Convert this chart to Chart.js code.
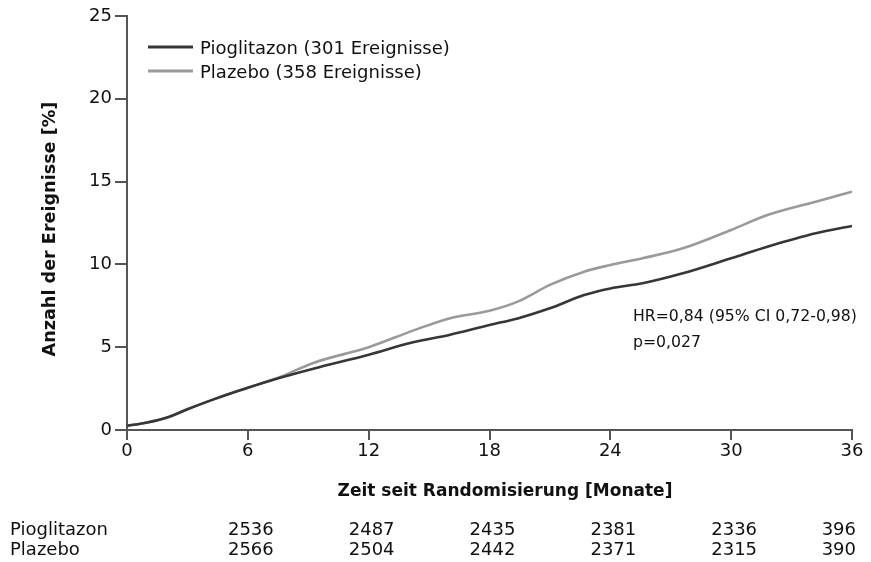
<!DOCTYPE html>
<html>
<head>
<meta charset="utf-8">
<script src="https://cdn.jsdelivr.net/npm/chart.js@4/dist/chart.umd.min.js"></script>
<style>
  html, body { margin: 0; padding: 0; background: #ffffff; }
  #c { display: block; }
</style>
</head>
<body>
<canvas id="c" width="871" height="562"></canvas>
<script>
// ---- data ----
const months = [0, 1, 2.1, 3, 4.3, 6, 7.6, 9.25, 12, 14.2, 16, 18, 19.4, 21, 22.7, 24, 25.6, 27.6, 30, 31.8, 34.2, 36];
const pioglitazon = [0.25, 0.45, 0.8, 1.25, 1.85, 2.55, 3.15, 3.7, 4.55, 5.3, 5.74, 6.34, 6.74, 7.35, 8.15, 8.55, 8.86, 9.46, 10.37, 11.07, 11.88, 12.32];
const plazebo     = [0.25, 0.45, 0.8, 1.25, 1.85, 2.55, 3.2, 4.05, 5.0, 6.0, 6.74, 7.2, 7.75, 8.76, 9.56, 9.96, 10.37, 10.97, 12.08, 12.98, 13.79, 14.39];
const seriesLabels = ['Pioglitazon (301 Ereignisse)', 'Plazebo (358 Ereignisse)'];
const xTicks = [0, 6, 12, 18, 24, 30, 36];
const yTicks = [0, 5, 10, 15, 20, 25];
const riskTimes = [6, 12, 18, 24, 30, 36];
const riskGroups = ['Pioglitazon', 'Plazebo'];
const riskPio = [2536, 2487, 2435, 2381, 2336, 396];
const riskPla = [2566, 2504, 2442, 2371, 2315, 390];
const annotationLines = ['HR=0,84 (95% CI 0,72-0,98)', 'p=0,027'];
const xTitle = 'Zeit seit Randomisierung [Monate]';
const yTitle = 'Anzahl der Ereignisse [%]';

const FONT = '"DejaVu Sans", "Liberation Sans", Arial, sans-serif';
const TEXT = '#111111';
const AXIS = '#555555';
const COLORS = ['#363636', '#9a9a9a'];

const toPts = (vals) => months.map((m, i) => ({ x: m, y: vals[i] }));

const overlay = {
  id: 'overlay',
  afterDraw(chart) {
    const ctx = chart.ctx;
    const xs = chart.scales.x;
    ctx.save();
    ctx.fillStyle = TEXT;

    // legend inside plot
    const legY = [47, 71];
    chart.data.datasets.forEach((ds, i) => {
      ctx.strokeStyle = ds.borderColor;
      ctx.lineWidth = 3;
      ctx.beginPath();
      ctx.moveTo(148, legY[i]);
      ctx.lineTo(193, legY[i]);
      ctx.stroke();
      ctx.font = '18px ' + FONT;
      ctx.textAlign = 'left';
      ctx.textBaseline = 'middle';
      ctx.fillText(ds.label, 200, legY[i] + 2);
    });

    // annotation
    ctx.font = '15.7px ' + FONT;
    ctx.textAlign = 'left';
    ctx.textBaseline = 'alphabetic';
    annotationLines.forEach((t, i) => ctx.fillText(t, 633, 321 + i * 26));

    // x title
    ctx.font = 'bold 17px ' + FONT;
    ctx.textAlign = 'center';
    ctx.fillText(xTitle, 505, 496);

    // y title
    ctx.save();
    ctx.translate(55, 229);
    ctx.rotate(-Math.PI / 2);
    ctx.font = 'bold 17.6px ' + FONT;
    ctx.textAlign = 'center';
    ctx.textBaseline = 'alphabetic';
    ctx.fillText(yTitle, 0, 0);
    ctx.restore();

    // number at risk table
    ctx.font = '18px ' + FONT;
    ctx.textBaseline = 'alphabetic';
    const rows = [riskPio, riskPla];
    const rowY = [535, 555];
    rows.forEach((vals, r) => {
      ctx.textAlign = 'left';
      ctx.fillText(riskGroups[r], 10, rowY[r]);
      vals.forEach((v, k) => {
        const px = xs.getPixelForValue(riskTimes[k]);
        if (k === vals.length - 1) {
          ctx.textAlign = 'right';
          ctx.fillText(String(v), px + 4, rowY[r]);
        } else {
          ctx.textAlign = 'center';
          ctx.fillText(String(v), px + 3, rowY[r]);
        }
      });
    });
    ctx.restore();
  }
};

new Chart(document.getElementById('c'), {
  type: 'line',
  data: {
    datasets: [
      { label: seriesLabels[0], data: toPts(pioglitazon), borderColor: COLORS[0], borderWidth: 2.6 },
      { label: seriesLabels[1], data: toPts(plazebo), borderColor: COLORS[1], borderWidth: 2.6 }
    ]
  },
  options: {
    responsive: false,
    animation: false,
    devicePixelRatio: 1,
    layout: { padding: { left: 0, right: 19, top: 16, bottom: 92 } },
    elements: {
      point: { radius: 0 },
      line: { cubicInterpolationMode: 'monotone', fill: false }
    },
    plugins: { legend: { display: false }, tooltip: { enabled: false } },
    scales: {
      x: {
        type: 'linear',
        min: 0, max: 36,
        afterFit: (s) => { s.height = 40; },
        afterBuildTicks: (s) => { s.ticks = xTicks.map(v => ({ value: v })); },
        border: { display: true, color: AXIS, width: 2 },
        grid: { drawOnChartArea: false, drawTicks: true, tickLength: 10, color: AXIS, lineWidth: 2 },
        ticks: { font: { family: FONT, size: 18 }, color: TEXT, padding: 1, maxRotation: 0 }
      },
      y: {
        type: 'linear',
        min: 0, max: 25,
        afterFit: (s) => { s.width = 127; },
        afterBuildTicks: (s) => { s.ticks = yTicks.map(v => ({ value: v })); },
        border: { display: true, color: AXIS, width: 2 },
        grid: { drawOnChartArea: false, drawTicks: true, tickLength: 12, color: AXIS, lineWidth: 2 },
        ticks: { font: { family: FONT, size: 18 }, color: TEXT, padding: 3 }
      }
    }
  },
  plugins: [overlay]
});
</script>
</body>
</html>
